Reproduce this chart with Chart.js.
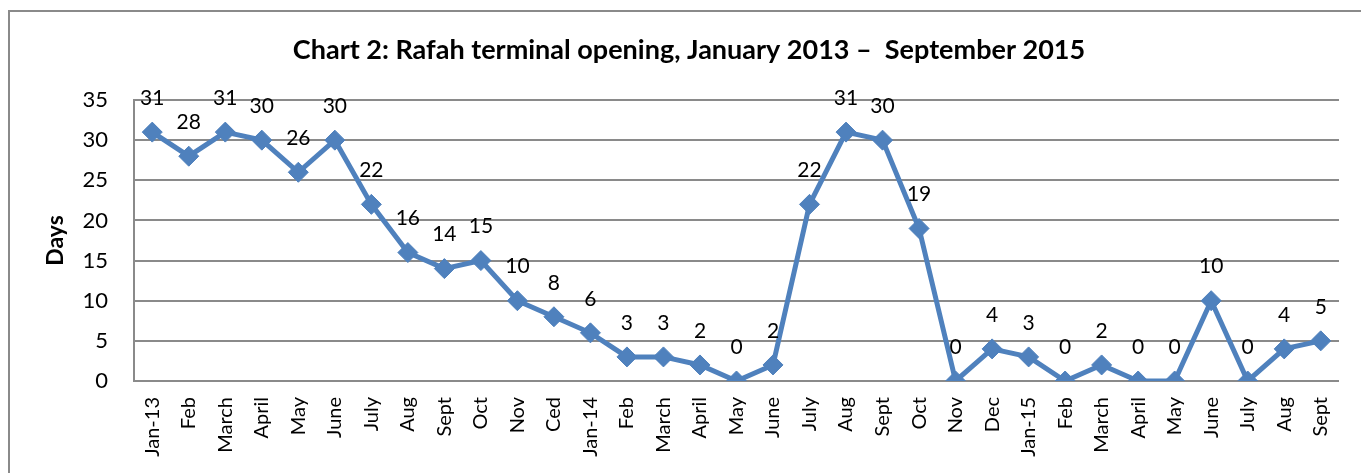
<!DOCTYPE html>
<html>
<head>
<meta charset="utf-8">
<script src="https://cdn.jsdelivr.net/npm/chart.js@4.4.1/dist/chart.umd.min.js"></script>
<style>
html,body{margin:0;padding:0;background:#fff;}
#wrap{position:relative;width:1361px;height:473px;}
</style>
</head>
<body>
<div id="wrap"><canvas id="c" width="1361" height="473"></canvas></div>
<script>
const categories = ["Jan-13","Feb","March","April","May","June","July","Aug","Sept","Oct","Nov","Ced",
  "Jan-14","Feb","March","April","May","June","July","Aug","Sept","Oct","Nov","Dec",
  "Jan-15","Feb","March","April","May","June","July","Aug","Sept"];
const daysOpen = [31,28,31,30,26,30,22,16,14,15,10,8,6,3,3,2,0,2,22,31,30,19,0,4,3,0,2,0,0,10,0,4,5];
const yTicks = [0,5,10,15,20,25,30,35];
const chartTitle = "Chart 2: Rafah terminal opening, January 2013 \u2013  September 2015";
const yTitle = "Days";

const FONT = "Lato, 'Open Sans', sans-serif";
const BLUE = "#4F81BD";

const framePlugin = {
  id: 'frame',
  beforeDraw(chart) {
    const ctx = chart.ctx;
    ctx.save();
    ctx.fillStyle = '#fff';
    ctx.fillRect(0, 0, chart.width, chart.height);
    ctx.strokeStyle = '#8a8a8a';
    ctx.lineWidth = 2;
    ctx.strokeRect(9, 11, 3000, 3000);
    ctx.fillStyle = '#000';
    ctx.font = "bold 27px " + FONT;
    ctx.textAlign = 'center';
    ctx.textBaseline = 'middle';
    ctx.fillText(chartTitle, 689, 50);
    ctx.restore();
  }
};

const labelPlugin = {
  id: 'pointLabels',
  afterDatasetsDraw(chart) {
    const ctx = chart.ctx;
    const meta = chart.getDatasetMeta(0);
    ctx.save();
    ctx.fillStyle = '#000';
    ctx.font = "21px " + FONT;
    ctx.textAlign = 'center';
    ctx.textBaseline = 'middle';
    meta.data.forEach((pt, i) => {
      ctx.fillText(String(daysOpen[i]), pt.x, pt.y - 34);
    });
    ctx.restore();
  }
};

new Chart(document.getElementById('c'), {
  type: 'line',
  data: {
    labels: categories,
    datasets: [{
      data: daysOpen,
      borderColor: BLUE,
      backgroundColor: BLUE,
      borderWidth: 5,
      pointStyle: 'rectRot',
      pointRadius: 10,
      pointHoverRadius: 10,
      pointBackgroundColor: BLUE,
      pointBorderColor: BLUE,
      pointBorderWidth: 1,
      tension: 0
    }]
  },
  options: {
    responsive: false,
    animation: false,
    events: [],
    layout: { padding: { top: 100, right: 18, left: 0, bottom: 0 } },
    plugins: { legend: { display: false }, tooltip: { enabled: false }, title: { display: false } },
    scales: {
      x: {
        offset: true,
        grid: { display: false, drawTicks: false },
        border: { display: true, color: '#8a8a8a', width: 2 },
        ticks: {
          autoSkip: false, maxRotation: 90, minRotation: 90, padding: 16,
          color: '#000', font: { family: FONT, size: 20 }
        },
        afterFit(scale) { scale.height = 92; }
      },
      y: {
        min: 0, max: 35,
        afterBuildTicks(scale) { scale.ticks = yTicks.map(v => ({ value: v })); },
        grid: { color: '#8a8a8a', lineWidth: 2, drawTicks: false },
        border: { display: true, color: '#8a8a8a', width: 2 },
        ticks: { padding: 26, color: '#000', font: { family: FONT, size: 22 } },
        title: { display: true, text: yTitle, color: '#000', font: { family: FONT, size: 23, weight: 'bold' }, padding: { top: 42, bottom: 0 } },
        afterFit(scale) { scale.width = 134; }
      }
    }
  },
  plugins: [framePlugin, labelPlugin]
});
</script>
</body>
</html>
